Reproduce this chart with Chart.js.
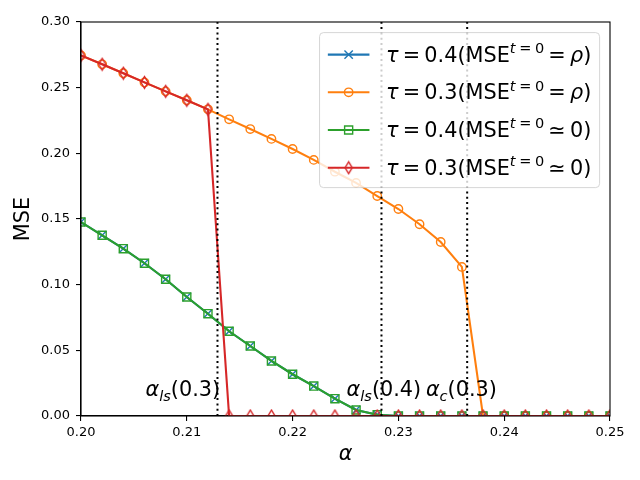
<!DOCTYPE html>
<html>
<head>
<meta charset="utf-8">
<script src="https://cdn.jsdelivr.net/npm/chart.js@4.4.0/dist/chart.umd.min.js"></script>
<style>
  html, body { margin: 0; padding: 0; background: #fff; }
</style>
</head>
<body>
<canvas id="chart" width="640" height="480"></canvas>
<script>
// alpha grid (x values)
const alphas = [0.200, 0.202, 0.204, 0.206, 0.208, 0.210, 0.212, 0.214, 0.216, 0.218,
  0.220, 0.222, 0.224, 0.226, 0.228, 0.230, 0.232, 0.234, 0.236, 0.238,
  0.240, 0.242, 0.244, 0.246, 0.248, 0.250]

// MSE values
const mseTau04Rho = [0.1477, 0.1376, 0.1274, 0.1163, 0.1041, 0.0906, 0.0779, 0.0645, 0.0533, 0.0419,
  0.0318, 0.0228, 0.0132, 0.0046, 0.001, 0, 0, 0, 0, 0,
  0, 0, 0, 0, 0, 0]
const mseTau03Rho = [0.2745, 0.2678, 0.261, 0.254, 0.2472, 0.2404, 0.2335, 0.2259, 0.2185, 0.211,
  0.2033, 0.195, 0.186, 0.1775, 0.1675, 0.1576, 0.146, 0.1325, 0.1135, 0,
  0, 0, 0, 0, 0, 0]
const mseTau04Zero = [0.1477, 0.1376, 0.1274, 0.1163, 0.1041, 0.0906, 0.0779, 0.0645, 0.0533, 0.0419,
  0.0318, 0.0228, 0.0132, 0.0046, 0.001, 0, 0, 0, 0, 0,
  0, 0, 0, 0, 0, 0]
const mseTau03Zero = [0.2745, 0.2678, 0.261, 0.254, 0.2472, 0.2404, 0.2335, 0, 0, 0,
  0, 0, 0, 0, 0, 0, 0, 0, 0, 0,
  0, 0, 0, 0, 0, 0]

const xTicks = [0.20, 0.21, 0.22, 0.23, 0.24, 0.25]
const yTicks = [0.00, 0.05, 0.10, 0.15, 0.20, 0.25, 0.30]

// transition points (vertical dotted lines)
const criticalAlphas = [0.2129, 0.2284, 0.2365]

const FONT = 'DejaVu Sans'
const BIG = 20.8

// thin diamond marker like matplotlib 'd'
function thinDiamond(color) {
  const c = document.createElement('canvas')
  c.width = 11
  c.height = 15
  const g = c.getContext('2d')
  g.strokeStyle = color
  g.lineWidth = 1.4
  g.beginPath()
  g.moveTo(5.5, 1.6)
  g.lineTo(9.05, 7.5)
  g.lineTo(5.5, 13.4)
  g.lineTo(1.95, 7.5)
  g.closePath()
  g.stroke()
  return c
}

const toPoints = vals => vals.map((v, i) => ({ x: alphas[i], y: v }))

const series = [
  { label: 'τ = 0.4(MSE^{t=0} = ρ)', values: mseTau04Rho, color: '#1f77b4', style: 'crossRot', radius: 5.9, order: 4 },
  { label: 'τ = 0.3(MSE^{t=0} = ρ)', values: mseTau03Rho, color: '#ff7f0e', style: 'circle', radius: 4.2, order: 3 },
  { label: 'τ = 0.4(MSE^{t=0} ≃ 0)', values: mseTau04Zero, color: '#2ca02c', style: 'rect', radius: 5.7, order: 2 },
  { label: 'τ = 0.3(MSE^{t=0} ≃ 0)', values: mseTau03Zero, color: '#d62728', style: thinDiamond('#d62728'), radius: 5, order: 1 }
]

// math-ish text runs; gap = extra space in em of current size
const GAP = 0.2
function mathRuns(tau, rhs) {
  const runs = [
    { t: 'τ', it: true },
    { gap: GAP }, { t: '=' }, { gap: GAP },
    { t: tau + '(MSE' },
    { t: 't', it: true, sup: true },
    { gap: GAP + 0.05, sup: true }, { t: '=', sup: true }, { gap: GAP + 0.05, sup: true },
    { t: '0', sup: true },
    { gap: GAP }
  ]
  if (rhs === 'rho') {
    runs.push({ t: '=' }, { gap: GAP }, { t: 'ρ', it: true }, { t: ')' })
  } else {
    runs.push({ t: '≃' }, { gap: GAP }, { t: '0)' })
  }
  return runs
}
const legendRuns = [mathRuns('0.4', 'rho'), mathRuns('0.3', 'rho'), mathRuns('0.4', 'zero'), mathRuns('0.3', 'zero')]

function drawMath(ctx, runs, x, y, size, draw) {
  let cx = x
  for (const r of runs) {
    const s = (r.sup || r.sub) ? size * 0.7 : size
    if (r.gap) { cx += r.gap * s; continue }
    ctx.font = (r.it ? 'italic ' : '') + s + 'px "' + FONT + '"'
    const dy = r.sup ? -size * 0.42 : (r.sub ? size * 0.22 : 0)
    if (draw) ctx.fillText(r.t, cx, y + dy)
    cx += ctx.measureText(r.t).width
  }
  return cx - x
}

const annotations = [
  { x: 0.2061, y: 0.015, runs: [{ t: 'α', it: true }, { t: 'ls', it: true, sub: true }, { t: '(0.3)' }] },
  { x: 0.2251, y: 0.015, runs: [{ t: 'α', it: true }, { t: 'ls', it: true, sub: true }, { t: '(0.4)' }] },
  { x: 0.2326, y: 0.015, runs: [{ t: 'α', it: true }, { t: 'c', it: true, sub: true }, { t: '(0.3)' }] }
]

const extras = {
  id: 'extras',
  afterDatasetsDraw(chart) {
    const { ctx, chartArea: a, scales: { x, y } } = chart
    ctx.save()
    // dotted vertical lines
    ctx.strokeStyle = '#000'
    ctx.lineWidth = 2
    ctx.setLineDash([2, 3.3])
    criticalAlphas.forEach(v => {
      const px = x.getPixelForValue(v)
      ctx.beginPath()
      ctx.moveTo(px, a.bottom)
      ctx.lineTo(px, a.top)
      ctx.stroke()
    })
    ctx.setLineDash([])
    // text labels
    ctx.fillStyle = '#000'
    ctx.textBaseline = 'alphabetic'
    annotations.forEach(n => {
      drawMath(ctx, n.runs, x.getPixelForValue(n.x), y.getPixelForValue(n.y), BIG, true)
    })
    // spines
    ctx.lineWidth = 1.1
    ctx.strokeStyle = '#000'
    ctx.strokeRect(a.left, a.top, a.right - a.left, a.bottom - a.top)
    ctx.restore()
  },
  afterDraw(chart) {
    const { ctx, chartArea: a } = chart
    ctx.save()
    ctx.textBaseline = 'alphabetic'
    const textW = Math.max(...legendRuns.map(r => drawMath(ctx, r, 0, 0, BIG, false)))
    const right = a.right - 10.4
    const top = a.top + 10.6
    const left = right - (8.3 + 41.6 + 16.6 + textW + 8.3)
    const bottom = top + 155
    ctx.beginPath()
    ctx.roundRect(left, top, right - left, bottom - top, 4)
    ctx.fillStyle = 'rgba(255,255,255,0.8)'
    ctx.fill()
    ctx.strokeStyle = 'rgba(204,204,204,0.8)'
    ctx.lineWidth = 1
    ctx.stroke()
    series.forEach((s, i) => {
      const cy = top + 22 + i * 37.7
      const x0 = left + 8.3
      ctx.strokeStyle = s.color
      ctx.lineWidth = 2.08
      ctx.beginPath()
      ctx.moveTo(x0, cy)
      ctx.lineTo(x0 + 41.6, cy)
      ctx.stroke()
      ctx.fillStyle = 'rgba(0,0,0,0)'
      ctx.lineWidth = 1.4
      Chart.helpers.drawPoint(ctx, { pointStyle: s.style, radius: s.radius, rotation: 0, borderWidth: 1.4 }, x0 + 20.8, cy)
      ctx.fillStyle = '#000'
      drawMath(ctx, legendRuns[i], x0 + 41.6 + 16.6, cy + 7, BIG, true)
    })
    ctx.restore()
  }
}

const tickFont = { family: FONT, size: 13 }

new Chart(document.getElementById('chart').getContext('2d'), {
  type: 'line',
  data: {
    datasets: series.map(s => ({
      label: s.label,
      data: toPoints(s.values),
      borderColor: s.color,
      borderWidth: 2.08,
      pointStyle: s.style,
      pointRadius: s.radius,
      pointBorderColor: s.color,
      pointBackgroundColor: 'rgba(0,0,0,0)',
      pointBorderWidth: 1.4,
      tension: 0,
      fill: false,
      order: s.order
    }))
  },
  options: {
    responsive: false,
    animation: false,
    events: [],
    devicePixelRatio: 1,
    layout: { padding: { left: 0, right: 30, top: 22, bottom: 0 } },
    plugins: {
      legend: { display: false },
      tooltip: { enabled: false }
    },
    scales: {
      x: {
        type: 'linear',
        min: 0.20,
        max: 0.25,
        afterBuildTicks: s => { s.ticks = xTicks.map(v => ({ value: v })) },
        afterFit: s => { s.height = 64 },
        grid: { display: true, drawOnChartArea: false, drawTicks: true, tickLength: 5, color: '#000', lineWidth: 1.1 },
        border: { display: true, color: '#000', width: 1.1 },
        ticks: {
          color: '#000',
          font: tickFont,
          padding: 4,
          maxRotation: 0,
          autoSkip: false,
          callback: v => v.toFixed(2)
        },
        title: {
          display: true,
          text: 'α',
          color: '#000',
          font: { family: FONT, size: BIG, style: 'italic' },
          padding: { top: 2, bottom: 13 }
        }
      },
      y: {
        type: 'linear',
        min: 0,
        max: 0.30,
        afterBuildTicks: s => { s.ticks = yTicks.map(v => ({ value: v })) },
        afterFit: s => { s.width = 81 },
        grid: { display: true, drawOnChartArea: false, drawTicks: true, tickLength: 5, color: '#000', lineWidth: 1.1 },
        border: { display: true, color: '#000', width: 1.1 },
        ticks: {
          color: '#000',
          font: tickFont,
          padding: 6,
          autoSkip: false,
          callback: v => v.toFixed(2)
        },
        title: {
          display: true,
          text: 'MSE',
          color: '#000',
          font: { family: FONT, size: BIG },
          padding: { top: 11, bottom: 0 }
        }
      }
    }
  },
  plugins: [extras]
})
</script>
</body>
</html>
